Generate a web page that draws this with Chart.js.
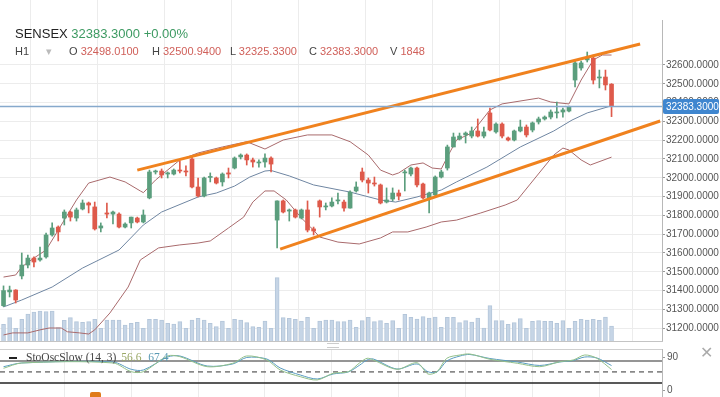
<!DOCTYPE html>
<html>
<head>
<meta charset="utf-8">
<script src="https://cdn.jsdelivr.net/npm/chart.js@4.4.1/dist/chart.umd.min.js"></script>
<style>
  body { margin: 0; background: #fff; width: 720px; height: 397px; overflow: hidden; position: relative;
         font-family: "Liberation Sans", Arial, sans-serif; }
  canvas { position: absolute; left: 0; }
  #main { top: 0; }
  #osc { top: 345px; }
  .t { position: absolute; white-space: nowrap; }
  .num { color: #d0605a; }
</style>
</head>
<body>
<canvas id="main" width="720" height="345"></canvas>
<canvas id="osc" width="720" height="52"></canvas>

<div class="t" style="left:15px;top:26px;font-size:13px;color:#222;">SENSEX <span style="color:#3d9a62">32383.3000 +0.00%</span></div>
<div class="t" style="left:15px;top:45px;font-size:11px;color:#444;">H1</div>
<div class="t" style="left:46px;top:45px;font-size:11px;color:#bbb;">▾</div>
<div class="t" style="left:69px;top:45px;font-size:11px;color:#444;">O <span class="num">32498.0100</span></div>
<div class="t" style="left:152px;top:45px;font-size:11px;color:#444;">H <span class="num">32500.9400</span></div>
<div class="t" style="left:230px;top:45px;font-size:11px;color:#444;">L <span class="num">32325.3300</span></div>
<div class="t" style="left:309px;top:45px;font-size:11px;color:#444;">C <span class="num">32383.3000</span></div>
<div class="t" style="left:390px;top:45px;font-size:11px;color:#444;">V <span class="num">1848</span></div>

<div class="t" style="left:9px;top:357px;width:8px;height:2px;background:#222;"></div>
<div class="t" style="left:26px;top:351px;font-family:'Liberation Serif',serif;font-size:11.5px;color:#444;">StoOscSlow (14, 3) <span style="color:#9aa866;margin-left:2px">56.6</span> <span style="color:#5a9ab4;margin-left:4px">67.4</span></div>
<div class="t" style="left:700px;top:343px;font-size:16px;color:#aaa;">✕</div>
<div class="t" style="left:327px;top:343px;width:12px;height:3px;border-top:1px solid #ccc;border-bottom:1px solid #ccc;"></div>
<div class="t" style="left:90px;top:392px;width:11px;height:8px;background:#e07b1a;border-radius:2px;"></div>

<script>
// candles (one per bar, left to right)
const opens = [31320,31393,31403,31478,31536,31573,31563,31579,31696,31738,31786,31818,31786,31834,31866,31845,31733,31813,31807,31807,
  31738,31760,31786,31765,31893,32031,32036,32020,32020,32041,32036,32100,31951,31903,32002,31999,31978,32026,32052,32111,
  32121,32095,32079,32084,32105,31775,31877,31823,31829,31786,31829,31728,31877,31845,31850,31877,31871,31839,31930,32031,
  31988,31972,31962,31871,31887,31919,32026,32020,32052,31967,31893,31909,32004,32052,32164,32206,32228,32222,32249,32222,
  32345,32244,32286,32212,32201,32249,32270,32254,32297,32313,32323,32345,32350,32355,32520,32584,32627,32637,32531,32536,32498.01];
const highs = [31425,31424,31405,31600,31589,31579,31632,31706,31760,31744,31829,31823,31839,31882,31871,31871,31760,31866,31823,31813,
  31760,31791,31791,31829,32041,32041,32047,32031,32047,32089,32063,32111,31999,32004,32026,32004,32026,32052,32111,32127,
  32127,32105,32095,32127,32111,31877,31882,31834,31834,31834,31877,31738,31882,31866,31893,31919,31882,31930,31978,32052,
  31999,32004,31967,31946,31946,31935,32041,32057,32057,31972,31924,32010,32041,32174,32238,32238,32244,32270,32313,32270,
  32371,32292,32292,32217,32254,32307,32281,32297,32323,32329,32361,32403,32371,32382,32627,32621,32669,32653,32573,32573,32500.94];
const lows = [31315,31366,31334,31462,31520,31526,31557,31573,31690,31664,31749,31770,31770,31829,31813,31722,31712,31786,31754,31733,
  31733,31733,31760,31760,31888,32020,31999,31999,32015,32026,32010,31946,31898,31898,31978,31967,31956,31999,32047,32100,
  32068,32057,32057,32057,32031,31627,31813,31770,31786,31781,31712,31696,31791,31829,31845,31861,31823,31839,31924,31978,
  31919,31956,31861,31866,31877,31882,31930,32010,31951,31887,31813,31898,31999,32041,32164,32201,32185,32212,32217,32212,
  32249,32238,32212,32196,32196,32244,32217,32244,32286,32307,32313,32318,32323,32350,32483,32573,32616,32499,32478,32467,32325.33];
const closes = [31400,31403,31350,31536,31573,31552,31573,31696,31733,31712,31818,31791,31829,31866,31855,31728,31744,31807,31818,31738,
  31754,31791,31765,31802,32031,32036,32015,32026,32041,32036,32031,31951,31903,31999,32004,31972,32020,32020,32105,32121,
  32095,32084,32084,32105,32073,31877,31818,31829,31791,31829,31722,31717,31845,31850,31871,31882,31839,31924,31951,31988,
  31972,31967,31866,31882,31919,31903,32031,32052,31962,31893,31919,32004,32031,32164,32217,32222,32238,32249,32222,32244,
  32254,32286,32222,32201,32249,32270,32228,32292,32313,32323,32350,32350,32361,32376,32611,32611,32637,32520,32536,32494,32383.30];
const volumes = [2050,2870,1560,2670,3320,3570,3690,3610,3690,1640,2540,2870,2380,2300,2380,2670,1560,2580,2580,2580,
  1970,2170,2300,1560,2670,2670,2580,2170,2090,2380,1560,2580,2790,2580,2170,1760,2460,1560,2670,2580,
  2260,1760,1680,2460,1560,7790,2870,2790,2670,2460,2910,1560,2460,2580,2580,2380,2378,2583,1681,2501,
  2911,2378,2501,2173,2501,1558,3280,2911,2706,2993,2829,2952,1681,2911,2911,2255,2501,2337,2829,1599,
  4346,2501,2501,2050,2255,2747,1558,2419,2501,2419,2419,2173,2501,1558,2419,2665,2583,2665,2542,2952,1848];

// bollinger bands: [bar index, price]
const bbUpper = [[0,31472],[2,31483],[3,31526],[5,31573],[7,31616],[9,31722],[12,31882],[14,31972],[17.5,32004],[20,31978],
  [22.5,31930],[23,31921],[25,31988],[29,32095],[32,32132],[36,32164],[40,32192],[43,32153],[46,32201],[50,32228],[54,32228],
  [57,32192],[60,32121],[62,32041],[64,32015],[65,32026],[67,32068],[69,32079],[70.5,32052],[72,32047],[73,32111],[74.5,32201],
  [77,32238],[80,32361],[82,32393],[88,32424],[90,32403],[93,32393],[95,32520],[97,32627],[98.5,32653],[100,32653]];
const bbMiddle = [[0,31313],[3,31350],[8,31419],[13,31520],[19,31616],[23,31749],[26,31818],[32,31898],[35,31919],[38,31956],
  [40.5,32004],[43,32036],[44,32039],[47,32010],[51,31962],[57,31924],[62,31882],[64.5,31871],[68,31898],[72,31935],[74.5,31978],
  [79.5,32057],[85,32164],[90.5,32249],[93.5,32307],[96,32345],[100,32383]];
const bbLower = [[0,31164],[1.5,31175],[4,31175],[6,31191],[7.5,31201],[9.5,31201],[10.5,31181],[12.5,31175],[14,31169],[15,31191],
  [17.5,31281],[20.5,31419],[22.5,31563],[25.5,31627],[29,31643],[32,31653],[34,31664],[37,31733],[39.5,31791],[41,31871],
  [43,31930],[44.5,31930],[46.5,31882],[49,31786],[50.5,31738],[52,31685],[55,31658],[58.5,31648],[62,31680],[64,31712],
  [66.5,31712],[69.5,31738],[72,31765],[74.5,31775],[78.5,31813],[82.5,31855],[84.5,31882],[86.5,31962],[90.5,32121],
  [92,32158],[93,32148],[95,32095],[96.5,32068],[100,32110]];

// trend channel drawn on the chart
const channelTop = [[22,32041],[104.7,32712]];
const channelBottom = [[45.5,31621],[108,32302]];

// slow stochastic (14, 3)
const stochK = [[0,59.9],[3,74.4],[18,74.4],[21,50.7],[23,50.7],[27,93.5],[29,91.6],[33.5,64.3],[37.7,73.6],[40,93.5],
  [43.3,82.6],[45.5,55.3],[48.8,37.1],[51.6,28.1],[54.2,46.3],[56.7,50.7],[58.6,75.2],[59.8,87.2],[60.8,82.6],[64.7,57.2],
  [68,75.2],[69.8,44.4],[71.3,50.7],[72.9,87.2],[75.1,96.2],[76.7,98.9],[80,84.5],[84.5,73.6],[88.2,64.3],[91.5,77.9],
  [93.7,82.6],[95.6,96.2],[97.6,87.2],[100,56.6]];
const stochD = [[0,64.3],[3,74.4],[18,77.1],[21,57.2],[23,55.3],[27,90.7],[29,93.5],[33.5,66.2],[37.7,71.7],[40,89.4],
  [43.3,85.3],[45.5,60.8],[48.8,41.7],[51.6,30.8],[54.2,44.4],[56.7,49.9],[58.6,68.9],[59.8,82.6],[60.8,85.3],[64.7,58],
  [68,71.7],[69.8,50.7],[71.3,49.9],[72.9,79.8],[75.1,93.5],[76.7,97.5],[80,86.6],[84.5,77.1],[88.2,67.6],[91.5,77.1],
  [93.7,81.2],[95.6,90.7],[97.6,88],[100,67.4]];

const oscLevels = [80, 50, 20];
const oscTicks = [0, 90];
const priceTicks = [];
for (let p = 31200; p <= 32900; p += 100) priceTicks.push(p);
const gridCols = [];
for (let i = 10; i <= 100; i += 11) gridCols.push(i);

const lastClose = closes[closes.length - 1];
const UP = '#5b9e7d', DOWN = '#de5a4b';
const X_MIN = -0.58, X_MAX = 108.3;

Chart.defaults.font.family = '"Liberation Sans", Arial, sans-serif';
Chart.defaults.animation = false;

const toXY = pts => pts.map(([x, y]) => ({ x, y }));
const candleColors = closes.map((c, i) => c >= opens[i] ? UP : DOWN);

// drop the half-label padding chart.js adds so the plot fills the canvas
function noPad(s) {
  s.paddingTop = 0; s.paddingBottom = 0; s.paddingLeft = 0; s.paddingRight = 0;
}

function xAxis(border) {
  return {
    type: 'linear', min: X_MIN, max: X_MAX, offset: false,
    afterBuildTicks: s => { s.ticks = gridCols.map(v => ({ value: v })); },
    afterFit: s => { s.height = 0; noPad(s); },
    ticks: { display: false },
    grid: { color: '#ececec', drawTicks: false },
    border: { display: border, color: '#c4c4c4' }
  };
}

const lineDs = (data, color, width, order) => ({
  type: 'line', data: toXY(data), borderColor: color, borderWidth: width,
  pointRadius: 0, tension: 0, fill: false, order, yAxisID: 'y'
});

const priceOverlay = {
  id: 'priceOverlay',
  afterDatasetsDraw(chart) {
    const { ctx, chartArea: a, scales } = chart;
    const py = Math.round(scales.y.getPixelForValue(lastClose)) + 0.5;
    ctx.save();
    ctx.strokeStyle = '#86a9cc';
    ctx.lineWidth = 1.5;
    ctx.beginPath(); ctx.moveTo(a.left, py); ctx.lineTo(a.right, py); ctx.stroke();
    ctx.strokeStyle = '#b8b8b8';
    ctx.lineWidth = 1;
    ctx.beginPath(); ctx.moveTo(a.right + 0.5, a.top + 20); ctx.lineTo(a.right + 0.5, a.bottom); ctx.stroke();
    ctx.fillStyle = '#3f86cf';
    ctx.beginPath();
    ctx.roundRect(a.right + 1, py - 7.5, 56, 15, 2);
    ctx.fill();
    ctx.fillStyle = '#fff';
    ctx.font = '10px "Liberation Sans"';
    ctx.textBaseline = 'middle';
    ctx.fillText(lastClose.toFixed(4), a.right + 4, py + 0.5);
    ctx.restore();
  }
};

new Chart(document.getElementById('main'), {
  type: 'bar',
  data: {
    datasets: [
      lineDs(channelTop, '#f0821e', 3, 0),
      lineDs(channelBottom, '#f0821e', 3, 0),
      {
        data: opens.map((o, i) => ({ x: i, y: [o, closes[i]] })),
        backgroundColor: candleColors, barThickness: 4, minBarLength: 1,
        grouped: false, order: 2, yAxisID: 'y'
      },
      {
        data: lows.map((l, i) => ({ x: i, y: [l, highs[i]] })),
        backgroundColor: candleColors, barThickness: 1,
        grouped: false, order: 3, yAxisID: 'y'
      },
      lineDs(bbMiddle, '#6f86a2', 1, 4),
      lineDs(bbUpper, '#a96a6c', 1, 4),
      lineDs(bbLower, '#a96a6c', 1, 4),
      {
        data: volumes.map((v, i) => ({ x: i, y: v })),
        backgroundColor: '#c6d5e6', borderColor: '#b4c6da', borderWidth: 1,
        barThickness: 4, grouped: false, order: 10, yAxisID: 'yVol'
      }
    ]
  },
  options: {
    responsive: false,
    devicePixelRatio: 1,
    layout: { padding: { top: 0, bottom: 4, left: 0, right: 0 } },
    plugins: { legend: { display: false }, tooltip: { enabled: false } },
    scales: {
      x: xAxis(true),
      y: {
        position: 'right', min: 31131.9, max: 32945.7,
        afterBuildTicks: s => { s.ticks = priceTicks.map(v => ({ value: v })); },
        afterFit: s => { s.width = 58; noPad(s); },
        ticks: {
          color: '#555', font: { size: 10 }, padding: 1,
          callback: v => v <= 32600 ? v.toFixed(4) : ''
        },
        grid: {
          color: c => (c.tick && c.tick.value > 32650) ? 'rgba(0,0,0,0)' : '#ececec',
          tickColor: c => (c.tick && c.tick.value > 32650) ? 'rgba(0,0,0,0)' : '#999',
          tickLength: 3
        },
        border: { display: false }
      },
      yVol: { display: false, min: 0, max: 41943 }
    }
  },
  plugins: [priceOverlay]
});

const oscOverlay = {
  id: 'oscOverlay',
  beforeDatasetsDraw(chart) {
    const { ctx, chartArea: a, scales } = chart;
    ctx.save();
    ctx.strokeStyle = '#cfcfcf';
    ctx.lineWidth = 1;
    ctx.beginPath(); ctx.moveTo(a.left, a.top + 0.5); ctx.lineTo(a.right, a.top + 0.5); ctx.stroke();
    const styles = [
      { c: '#959595', w: 2, d: [] },
      { c: '#333', w: 1, d: [5, 4] },
      { c: '#222', w: 1.5, d: [] }
    ];
    oscLevels.forEach((lv, k) => {
      const py = scales.y.getPixelForValue(lv);
      ctx.strokeStyle = styles[k].c;
      ctx.lineWidth = styles[k].w;
      ctx.setLineDash(styles[k].d);
      ctx.beginPath(); ctx.moveTo(a.left, py); ctx.lineTo(a.right, py); ctx.stroke();
    });
    ctx.restore();
  }
};

new Chart(document.getElementById('osc'), {
  type: 'line',
  data: {
    datasets: [
      { data: toXY(stochK), borderColor: '#93c08a', borderWidth: 1, pointRadius: 0, tension: 0.3, fill: false },
      { data: toXY(stochD), borderColor: '#5a9cc0', borderWidth: 1, pointRadius: 0, tension: 0.3, fill: false }
    ]
  },
  options: {
    responsive: false,
    devicePixelRatio: 1,
    layout: { padding: { top: 4, bottom: 0, left: 0, right: 0 } },
    plugins: { legend: { display: false }, tooltip: { enabled: false } },
    scales: {
      x: xAxis(false),
      y: {
        position: 'right', min: -18.3, max: 112.5,
        afterBuildTicks: s => { s.ticks = oscTicks.map(v => ({ value: v })); },
        afterFit: s => { s.width = 58; noPad(s); },
        ticks: { color: '#555', font: { size: 10 }, padding: 2 },
        grid: { drawOnChartArea: false, tickLength: 3, tickColor: '#999' },
        border: { display: true, color: '#b8b8b8' }
      }
    }
  },
  plugins: [oscOverlay]
});
</script>
</body>
</html>
